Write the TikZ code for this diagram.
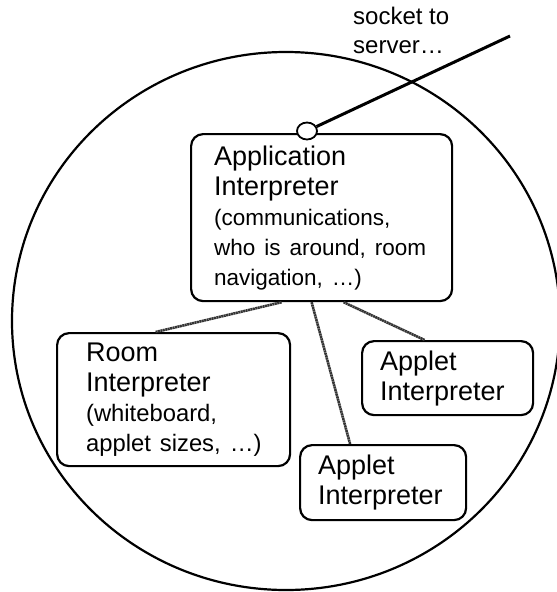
\documentclass[tikz,border=0pt]{standalone}
\usepackage{fontspec}
\setmainfont{Liberation Sans}
\usetikzlibrary{shapes.geometric}
\newcommand\bigtxt{\fontsize{27}{30}\selectfont}
\newcommand\smtxt{\fontsize{22.5}{30}\selectfont}
\newcommand\smtxtR{\fontsize{23.8}{30}\selectfont}
\tikzset{
  interp/.style={draw,rounded corners=12pt,line width=2.2pt,anchor=north west,align=left,inner ysep=0pt,font=\bigtxt},
  link/.style={line width=2.6pt,color=black!80,dash pattern=on 2pt off 0.5pt}
}
\begin{document}
\begin{tikzpicture}[x=1pt,y=-1pt]
 \useasboundingbox (0,0) rectangle (557,592);
 % the client, drawn as one big circle
 \draw [line width=2.2pt] (286,321) ellipse [x radius=274,y radius=269];

 \node (app) [interp,inner xsep=23pt,text width=215pt,minimum height=167pt,yshift=-2pt] at (190,131)
   {Application\\Interpreter\\\smtxt (communications,\\\mbox{who is around, room}\\navigation, …)};
 \node (room) [interp,inner xsep=29pt,text width=175pt,minimum height=133pt] at (56,332)
   {Room\\Interpreter\\\smtxtR (whiteboard,\\\mbox{applet sizes, …)}};
 \node (appR) [interp,inner xsep=18pt,text width=135pt,minimum height=74pt] at (361,340)
   {Applet\\Interpreter};
 \node (appB) [interp,inner xsep=18pt,text width=130pt,minimum height=75pt] at (299,444)
   {Applet\\Interpreter};

 %\draw [link] (app) -- (room);
 \draw [link] ([xshift=-40pt]app.south) -- ([xshift=-18pt]room.north);
 \draw [link] ([xshift=-10pt]app.south) -- ([xshift=-33pt]appB.north);
 \draw [link] ([xshift=22pt]app.south) -- ([xshift=-23pt]appR.north);

 % socket to the server
 \node (sock) [ellipse,draw,fill=white,line width=1.8pt,minimum width=20pt,minimum height=17pt,inner sep=0pt] at (307,131) {};
 \coordinate (srv) at (510,36);
 \draw [line width=3pt] (sock) -- (srv);
 \node (lbl) [anchor=north west,align=left,inner sep=0pt,font=\fontsize{24}{29}\selectfont] at (353,7) {socket to\\server…};
\end{tikzpicture}
\end{document}
